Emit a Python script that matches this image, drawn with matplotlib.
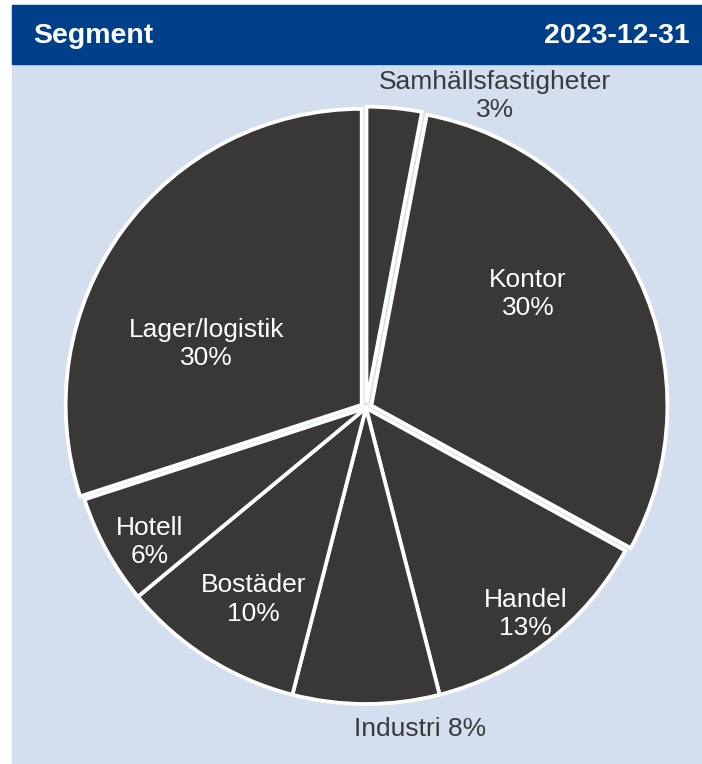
import numpy as np
import matplotlib.pyplot as plt
from matplotlib.patches import Rectangle

plt.rcParams['font.family'] = ['Liberation Sans', 'DejaVu Sans']

TITLE = "Segment"
DATE = "2023-12-31"
segments = ["Samhällsfastigheter", "Kontor", "Handel", "Industri",
            "Bostäder", "Hotell", "Lager/logistik"]
shares = [3, 30, 13, 8, 10, 6, 30]

# label placement: radial distance (pie radius = 1), angle nudge in degrees, inside/outside
label_dist = [1.14, 0.67, 0.88, 1.10, 0.75, 0.86, 0.58]
label_nudge = [-17, 10, 0, 9.5, 2, 3, 14]
label_sep = ["\n", "\n", "\n", " ", "\n", "\n", "\n"]
inside = [False, True, True, False, True, True, True]
explode = [0.018, 0.02, 0, 0, 0, 0, 0.018]

W, H = 702, 764
BG = "#D3DEEF"
HEADER = "#00408A"
SLICE = "#3A3836"

fig = plt.figure(figsize=(W / 100, H / 100), dpi=100)
fig.patch.set_facecolor("white")

# panel and header
fig.patches.append(Rectangle((12 / W, 0), (W - 12) / W, (H - 5) / H,
                             transform=fig.transFigure, color=BG, zorder=0))
fig.patches.append(Rectangle((12 / W, (H - 64) / H), (W - 12) / W, 59 / H,
                             transform=fig.transFigure, color=HEADER, zorder=1))
fig.text(33 / W, 1 - 36 / H, TITLE, color="white", fontsize=20.5,
         fontweight="bold", va="center", ha="left")
fig.text(690 / W, 1 - 36 / H, DATE, color="white", fontsize=20.5,
         fontweight="bold", va="center", ha="right")

# pie axes: center at (366, 408) px, radius 296 px
cx, cy, R, L = 366, 408, 296, 360
ax = fig.add_axes([(cx - L) / W, (H - cy - L) / H, 2 * L / W, 2 * L / H])
ax.set_zorder(3)
ax.patch.set_visible(False)

ax.pie(shares, startangle=90, counterclock=False, colors=[SLICE] * len(shares),
       explode=explode, radius=1,
       wedgeprops=dict(edgecolor="white", linewidth=2.7))

total = sum(shares)
start = 90.0
for name, val, d, nudge, sep, ins in zip(segments, shares, label_dist,
                                         label_nudge, label_sep, inside):
    span = 360.0 * val / total
    mid = start - span / 2 + nudge
    start -= span
    x = d * np.cos(np.radians(mid))
    y = d * np.sin(np.radians(mid))
    ax.text(x, y, f"{name}{sep}{val}%", ha="center", va="center",
            fontsize=19, color="white" if ins else "#3A3A3A",
            linespacing=1.22)

ax.set_xlim(-L / R, L / R)
ax.set_ylim(-L / R, L / R)
ax.set_aspect("equal")
ax.axis("off")

fig.savefig("out.png", dpi=100)
